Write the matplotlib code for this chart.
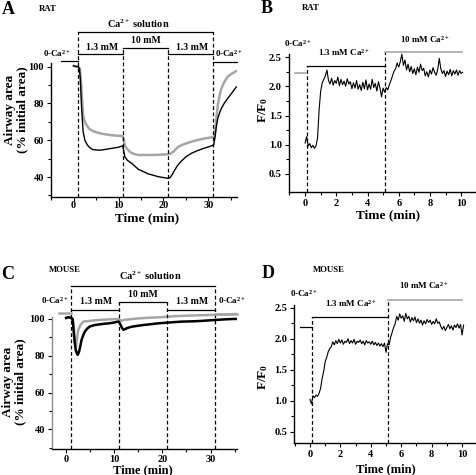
import numpy as np
import matplotlib

matplotlib.use("Agg")
import matplotlib.pyplot as plt
from matplotlib.ticker import FixedLocator, MultipleLocator

plt.rcParams["font.family"] = "Liberation Serif"
plt.rcParams["font.weight"] = "bold"
plt.rcParams["mathtext.fontset"] = "custom"
plt.rcParams["mathtext.rm"] = "Liberation Serif:bold"
plt.rcParams["mathtext.bf"] = "Liberation Serif:bold"
plt.rcParams["mathtext.it"] = "Liberation Serif:italic:bold"

W, H = 476, 475
GRAY = "#a6a6a6"
CA = r"Ca$^{\mathbf{2+}}$"

# ---- data ----
# A: rat airway area (%), black and gray traces
A_black_t = [0, 0.5, 1.0, 1.3, 1.5, 1.75, 2.1, 2.5, 2.85, 3.2, 3.6, 4.2, 5.1, 6.0, 7.0, 8.0,
             9.0, 10.0, 10.9, 11.1, 11.4, 12.0, 12.9, 13.6, 14.4, 15.5, 16.6, 17.7, 18.8, 20.0,
             21.0, 21.4, 22.0, 22.5, 23.2, 24.0, 25.0, 26.2, 27.5, 28.5, 29.5, 30.5, 31.2, 31.5,
             31.8, 32.1, 32.5, 32.9, 33.5, 34.3, 35.0, 35.6, 36.2]
A_black = [100.5, 100.2, 100.0, 99.0, 93.0, 79.0, 65.0, 60.0, 58.3, 57.0, 56.0, 55.0, 54.7,
           54.6, 55.0, 55.4, 55.8, 56.2, 57.0, 55.0, 51.0, 49.0, 47.5, 46.0, 44.2, 43.0, 41.7,
           41.0, 40.2, 39.7, 39.3, 39.5, 41.5, 43.8, 46.5, 48.7, 51.0, 52.9, 54.3, 55.2, 56.0,
           56.8, 57.5, 62.0, 68.0, 72.0, 75.0, 77.4, 80.0, 82.8, 85.0, 87.0, 89.0]
A_gray_t = [0, 0.5, 1.0, 1.4, 1.7, 2.1, 2.5, 2.85, 3.5, 4.3, 5.5, 6.6, 8.0, 9.5, 10.9, 11.1,
            11.4, 11.8, 12.6, 13.5, 14.4, 16.0, 17.4, 19.0, 20.5, 21.4, 22.2, 23.3, 24.5, 26.2,
            27.7, 29.2, 30.5, 31.3, 31.6, 32.1, 32.5, 32.9, 33.5, 34.3, 35.2, 36.2]
A_gray = [100.5, 100.0, 100.0, 99.0, 90.0, 73.7, 70.0, 68.3, 66.2, 65.0, 64.0, 63.4, 62.9,
          62.5, 62.3, 61.0, 57.0, 55.6, 53.5, 52.5, 52.0, 52.0, 52.0, 52.1, 52.3, 52.5, 53.8,
          56.5, 57.8, 59.2, 60.2, 61.0, 61.5, 61.9, 68.0, 79.2, 84.5, 88.2, 91.5, 94.6, 96.2, 97.6]

# C: mouse airway area (%)
C_black_t = [0, 0.5, 1.0, 1.35, 1.6, 1.8, 2.0, 2.2, 2.4, 2.7, 3.0, 3.2, 3.6, 3.9, 4.4, 4.9,
             5.9, 7.0, 8.0, 9.1, 10.0, 10.8, 11.0, 11.3, 11.6, 11.9, 12.3, 12.6, 13.5, 14.6,
             16.0, 17.4, 19.0, 20.9, 22.5, 24.3, 26.0, 27.8, 29.5, 31.2, 33.0, 34.7, 35.5]
C_black = [100.5, 101.0, 100.5, 100.0, 92.0, 87.0, 83.0, 81.5, 80.5, 82.3, 86.0, 88.6, 91.5,
           93.2, 94.8, 95.9, 96.7, 97.1, 97.4, 97.7, 98.1, 98.6, 98.2, 96.8, 95.2, 94.1, 94.5,
           95.0, 95.7, 96.2, 96.7, 97.1, 97.6, 98.0, 98.3, 98.6, 98.7, 98.9, 99.2, 99.5, 99.8,
           100.0, 100.0]
C_gray_t = [0, 0.5, 1.0, 1.35, 1.6, 1.75, 1.9, 2.05, 2.2, 2.5, 3.0, 3.6, 5.0, 7.0, 9.0, 10.8,
            11.2, 11.5, 12.0, 13.0, 15.0, 17.4, 20.0, 22.5, 25.0, 27.5, 30.0, 32.0, 34.0, 35.5]
C_gray = [101.0, 100.8, 101.0, 100.0, 95.9, 90.0, 86.0, 85.0, 88.0, 94.0, 96.8, 98.6, 99.0,
          99.5, 99.8, 100.0, 99.4, 99.0, 99.5, 99.8, 100.3, 100.7, 101.0, 101.5, 101.8, 102.0,
          102.2, 102.4, 102.6, 102.7]

# B, D: F/F0 traces sampled every 0.1 min from t = 0
FF_DT = 0.1
B_ff = [1.03, 1.14, 0.98, 1.02, 0.95, 0.99, 0.94, 0.98, 1.12, 1.60, 1.92, 2.06, 2.12, 2.18,
        2.28, 2.10, 2.04, 2.14, 2.02, 2.10, 2.05, 2.16, 2.01, 2.12, 2.03, 2.09, 2.00, 2.13,
        2.04, 2.08, 1.96, 2.06, 1.97, 2.10, 1.95, 2.03, 1.93, 2.07, 1.96, 2.11, 1.94, 2.04,
        1.95, 2.12, 1.98, 2.05, 1.92, 2.08, 1.97, 1.82, 1.97, 1.90, 1.98, 1.94, 2.03, 2.10,
        2.18, 2.26, 2.30, 2.40, 2.33, 2.42, 2.55, 2.36, 2.45, 2.28, 2.38, 2.25, 2.34, 2.22,
        2.30, 2.20, 2.33, 2.24, 2.38, 2.27, 2.31, 2.18, 2.25, 2.16, 2.28, 2.21, 2.32, 2.24,
        2.19, 2.29, 2.48, 2.30, 2.22, 2.27, 2.17, 2.26, 2.20, 2.29, 2.18, 2.27, 2.21, 2.28,
        2.19, 2.27, 2.22, 2.24]
D_ff = [1.02, 0.95, 1.08, 1.05, 1.09, 1.07, 1.12, 1.20, 1.36, 1.47, 1.63, 1.70, 1.79, 1.84,
        1.87, 1.95, 1.90, 1.97, 1.92, 1.99, 1.93, 1.98, 1.91, 1.96, 1.94, 2.00, 1.92, 1.97,
        1.93, 1.99, 1.91, 1.96, 1.94, 1.98, 1.92, 1.96, 1.90, 1.97, 1.93, 1.95, 1.91, 1.96,
        1.90, 1.94, 1.89, 1.93, 1.88, 1.92, 1.87, 1.93, 1.78, 1.92, 1.90, 2.02, 2.10, 2.18,
        2.24, 2.36, 2.30, 2.40, 2.33, 2.37, 2.28, 2.41, 2.32, 2.36, 2.27, 2.34, 2.29, 2.35,
        2.26, 2.32, 2.25, 2.30, 2.22, 2.29, 2.24, 2.31, 2.26, 2.30, 2.23, 2.28, 2.24, 2.32,
        2.25, 2.27, 2.20, 2.15, 2.20, 2.13, 2.18, 2.23, 2.16, 2.21, 2.14, 2.22, 2.18, 2.24,
        2.17, 2.23, 2.06, 2.22]

AREA_TICKS = [40, 60, 80, 100]
AREA_MINOR = [30, 50, 70, 90]
AREA_XTICKS = [0, 10, 20, 30]
FF_TICKS = [0.5, 1.0, 1.5, 2.0, 2.5]
FF_MINOR = [0.75, 1.25, 1.75, 2.25]
FF_XTICKS = [0, 2, 4, 6, 8, 10]


def px_axes(fig, l, r, b, t):
    return fig.add_axes([l / W, 1 - b / H, (r - l) / W, (b - t) / H])


def style(ax, xlim, ylim, ytop, xt, yt, ymin, xminor, left_color="black", xpad=2.0):
    for s in ("top", "right"):
        ax.spines[s].set_visible(False)
    ax.spines["left"].set_bounds(ylim[0], ytop)
    ax.spines["left"].set_color(left_color)
    ax.spines["left"].set_linewidth(1.0)
    ax.spines["bottom"].set_linewidth(1.0)
    ax.xaxis.set_major_locator(FixedLocator(xt))
    ax.yaxis.set_major_locator(FixedLocator(yt))
    ax.xaxis.set_minor_locator(MultipleLocator(xminor))
    ax.yaxis.set_minor_locator(FixedLocator(ymin))
    ax.tick_params(which="major", length=3, width=0.8, labelsize=7.5, pad=2)
    ax.tick_params(which="minor", length=2, width=0.8)
    ax.tick_params(axis="x", which="major", pad=xpad)
    ax.set_xlim(*xlim)
    ax.set_ylim(*ylim)
    for lab in ax.get_xticklabels() + ax.get_yticklabels():
        lab.set_fontweight("bold")
    ax.patch.set_visible(False)


def dashed(ax, x, y0, y1):
    ax.plot([x, x], [y0, y1], color="black", lw=0.9, dashes=(3, 2), clip_on=False)


def bar(ax, x0, x1, y, color="black", lw=0.9):
    ax.plot([x0, x1], [y, y], color=color, lw=lw, clip_on=False)


def ftext(fig, x, y, s, size, ha="center", va="center", **kw):
    fig.text(x / W, 1 - y / H, s, fontsize=size, fontweight="bold", ha=ha, va=va, **kw)


fig = plt.figure(figsize=(W / 100, H / 100), dpi=100)

# ---- A ----
axA = px_axes(fig, 50.7, 236.7, 196.7, 18)
ylA = (29.3, 126.5)
style(axA, (-5.1, 36.3), ylA, 102, AREA_XTICKS, AREA_TICKS, AREA_MINOR, 5, xpad=0.3)
axA.plot(A_gray_t, A_gray, color=GRAY, lw=1.8)
axA.plot(A_black_t, A_black, color="black", lw=1.0)
for x, top in [(1, 118.9), (11, 110.2), (21, 110.2), (31, 118.9)]:
    dashed(axA, x, ylA[0], top)
bar(axA, 1, 31, 118.9)
bar(axA, 1, 11, 106.7)
bar(axA, 21, 31, 106.7)
bar(axA, 11, 21, 110.2)
bar(axA, -2.8, 1, 103.1)
bar(axA, 31, 36.3, 102.7)
axA.text(14.3, 123.2, "Ca$^{\\mathbf{2+}}$ solution", fontsize=7.5, ha="center", va="center")
axA.text(6.3, 110.3, "1.3 mM", fontsize=7, ha="center", va="center")
axA.text(16.0, 114.1, "10 mM", fontsize=7, ha="center", va="center")
axA.text(26.3, 110.3, "1.3 mM", fontsize=7, ha="center", va="center")
axA.text(-3.6, 107.3, "0-" + CA, fontsize=6.5, ha="center", va="center")
axA.text(34.6, 107.3, "0-" + CA, fontsize=6.5, ha="center", va="center")
axA.set_ylim(*ylA)

# ---- B ----
axB = px_axes(fig, 288.7, 474.7, 191.7, 18)
ylB = (0.197, 3.17)
style(axB, (-1.05, 10.87), ylB, 2.55, FF_XTICKS, FF_TICKS, FF_MINOR, 1)
tB = np.arange(len(B_ff)) * FF_DT
axB.plot(tB, B_ff, color="black", lw=0.8)
dashed(axB, 0.1, ylB[0], 2.356)
dashed(axB, 5.1, ylB[0], 2.596)
bar(axB, -0.64, 0.08, 2.226, color=GRAY, lw=1.2)
bar(axB, 0.1, 5.1, 2.356)
bar(axB, 5.1, 10.07, 2.596, color=GRAY, lw=1.2)
axB.text(-0.45, 2.74, "0-" + CA, fontsize=6.5, ha="center", va="center")
axB.text(2.48, 2.58, "1.3 mM " + CA, fontsize=6.5, ha="center", va="center")
axB.text(7.7, 2.80, "10 mM " + CA, fontsize=6.5, ha="center", va="center")
axB.set_ylim(*ylB)

# ---- C ----
axC = px_axes(fig, 51.7, 237, 449.3, 262)
ylC = (29.1, 131.0)
style(axC, (-3.0, 35.5), ylC, 101, AREA_XTICKS, AREA_TICKS, AREA_MINOR, 5,
      left_color="#8c8c8c", xpad=1.2)
axC.plot(C_gray_t, C_gray, color=GRAY, lw=1.8)
axC.plot(C_black_t, C_black, color="black", lw=1.8)
for x, top in [(1, 118.1), (11, 109.2), (21, 109.2), (31, 118.1)]:
    dashed(axC, x, ylC[0], top)
bar(axC, 1, 31, 118.1)
bar(axC, 1, 11, 104.7)
bar(axC, 21, 31, 104.7)
bar(axC, 11, 21, 109.2)
bar(axC, -1.5, 1, 103.1, color=GRAY, lw=1.8)
bar(axC, 31, 35.5, 102.6, color=GRAY, lw=1.8)
axC.text(17.4, 123.4, "Ca$^{\\mathbf{2+}}$ solution", fontsize=7.5, ha="center", va="center")
axC.text(6.3, 109.4, "1.3 mM", fontsize=7, ha="center", va="center")
axC.text(16.0, 113.4, "10 mM", fontsize=7, ha="center", va="center")
axC.text(26.1, 109.4, "1.3 mM", fontsize=7, ha="center", va="center")
axC.text(-2.3, 109.8, "0-" + CA, fontsize=6.5, ha="center", va="center")
axC.text(34.4, 109.8, "0-" + CA, fontsize=6.5, ha="center", va="center")
axC.set_ylim(*ylC)

# ---- D ----
axD = px_axes(fig, 294.3, 474.7, 443.3, 262)
ylD = (0.313, 3.237)
style(axD, (-1.03, 10.83), ylD, 2.55, FF_XTICKS, FF_TICKS, FF_MINOR, 1)
tD = np.arange(len(D_ff)) * FF_DT
axD.plot(tD, D_ff, color="black", lw=0.8)
dashed(axD, 0.13, ylD[0], 2.345)
dashed(axD, 5.1, ylD[0], 2.62)
bar(axD, -0.63, 0.13, 2.19)
bar(axD, 0.13, 5.1, 2.345)
bar(axD, 5.1, 10.0, 2.62, color=GRAY, lw=1.2)
axD.text(-0.37, 2.73, "0-" + CA, fontsize=6.5, ha="center", va="center")
axD.text(2.7, 2.57, "1.3 mM " + CA, fontsize=6.5, ha="center", va="center")
axD.text(7.5, 2.85, "10 mM " + CA, fontsize=6.5, ha="center", va="center")
axD.set_ylim(*ylD)

# ---- panel letters and labels ----
ftext(fig, 1.5, 14, "A", 13, ha="left", va="baseline")
ftext(fig, 39.3, 10.7, "RAT", 6.3, ha="left", va="baseline")
ftext(fig, 261, 13.3, "B", 13, ha="left", va="baseline")
ftext(fig, 302, 10.3, "RAT", 6.3, ha="left", va="baseline")
ftext(fig, 1.5, 279.3, "C", 13, ha="left", va="baseline")
ftext(fig, 49.3, 271.7, "MOUSE", 6.3, ha="left", va="baseline")
ftext(fig, 262, 277.5, "D", 13, ha="left", va="baseline")
ftext(fig, 313.3, 271.7, "MOUSE", 6.3, ha="left", va="baseline")

ftext(fig, 16, 110, "Airway area\n(% initial area)", 9.5, rotation=90, linespacing=1.1)
ftext(fig, 14, 382, "Airway area\n(% initial area)", 9.5, rotation=90, linespacing=1.1)
ftext(fig, 146.7, 218, "Time (min)", 9.5)
ftext(fig, 143.3, 470, "Time (min)", 9)
ftext(fig, 387.7, 215, "Time (min)", 9.5)
ftext(fig, 386, 469.5, "Time (min)", 9)
ftext(fig, 263, 110, "F/F$_{\\mathbf{0}}$", 9.5, rotation=90)
ftext(fig, 263, 377, "F/F$_{\\mathbf{0}}$", 9.5, rotation=90)

fig.savefig("out.png", dpi=100, facecolor="white")
